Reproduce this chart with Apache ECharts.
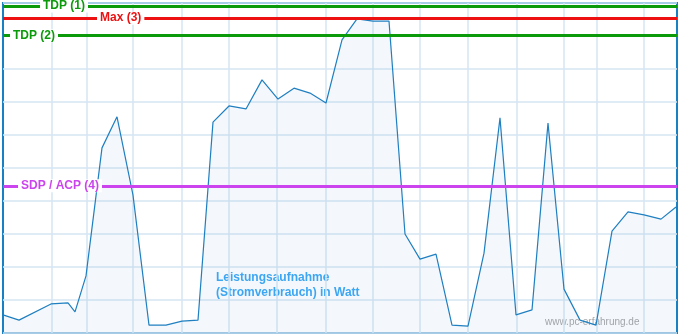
<!DOCTYPE html>
<html>
<head>
<meta charset="utf-8">
<script src="https://cdn.jsdelivr.net/npm/echarts@6/dist/echarts.min.js"></script>
<style>
html,body{margin:0;padding:0;background:#fff;}
#chart{width:681px;height:336px;}
</style>
</head>
<body>
<div id="chart"></div>
<script>
// Sample positions (time axis, arbitrary units) and power draw values (0..100 scale)
var xVals = [0,16,48,65,72,83,99,114,130,146,163,179,195,210,226,243,259,275,291,307,323,339,354,370,386,402,417,433,449,465,481,497,513,529,545,561,577,593,609,625,641,658,673];
var powerVals = [5.5,3.9,8.8,9.1,6.4,17.3,56.1,65.5,41.8,2.4,2.4,3.6,3.9,63.9,68.8,67.9,76.7,70.9,74.2,72.7,69.7,88.8,95.2,94.5,94.5,30.0,22.4,23.9,2.4,2.1,24.2,65.2,5.5,7.0,63.6,13.3,3.9,2.4,30.9,36.7,35.8,34.5,38.2];

// Vertical grid line positions (x-axis units)
var gridX = [49,84,130,179,226,274,323,370,417,465,514,561,594,641];

// Reference lines
var refNames = ['TDP (1)','Max (3)','TDP (2)','SDP / ACP (4)'];
var refValues = [99.1,95.4,90.1,44.6];
var refColors = ['#0a9a0a','#ee1111','#0a9a0a','#cc44ee'];
var refLabelOffsets = [37,94,7,15];

var seriesData = xVals.map(function(x,i){ return [x, powerVals[i]]; });

var chart = echarts.init(document.getElementById('chart'), null, {renderer:'canvas'});
var font = '"Liberation Sans", Arial, sans-serif';

chart.setOption({
  animation: false,
  backgroundColor: '#ffffff',
  grid: {left: 3, top: 3, right: 4, bottom: 3, show: true, borderColor: '#1a80c4', borderWidth: 2, backgroundColor: 'transparent'},
  xAxis: {
    type: 'value', min: 0, max: 674,
    axisLine: {show:false}, axisTick:{show:false}, axisLabel:{show:false}, splitLine:{show:false}
  },
  yAxis: {
    type: 'value', min: 0, max: 100, interval: 10,
    axisLine: {show:false}, axisTick:{show:false}, axisLabel:{show:false},
    splitLine: {show:true, lineStyle:{color:'#d6e6f2', width:1.5}}
  },
  series: [
    {
      type: 'line', data: [], silent: true,
      markLine: {
        z: 1, silent: true, symbol: 'none', animation: false,
        label: {show: false},
        lineStyle: {color: '#d6e6f2', width: 1.5, type: 'solid'},
        data: gridX.map(function(v){ return {xAxis: v}; })
      }
    },
    {
      type: 'line', data: seriesData, z: 2,
      showSymbol: false, symbol: 'none',
      lineStyle: {color: '#1f7fc0', width: 1.2},
      areaStyle: {color: 'rgba(30,120,190,0.07)', origin: 'start'},
      markLine: {
        z: 5, silent: true, symbol: 'none', animation: false,
        data: refValues.map(function(v,i){
          return {
            yAxis: v,
            lineStyle: {color: refColors[i], width: 3, type: 'solid'},
            label: {
              show: true, position: 'insideStart', formatter: refNames[i],
              color: refColors[i], fontWeight: 'bold', fontSize: 12, fontFamily: font,
              backgroundColor: '#ffffff', padding: [1,3,0,3], distance: [refLabelOffsets[i], 0]
            }
          };
        })
      }
    }
  ],
  graphic: [
    {
      type: 'text', left: 216, top: 270, silent: true,
      style: {
        text: 'Leistungsaufnahme\n(Stromverbrauch) in Watt',
        fill: '#3fa9f5', font: 'bold 12px "Liberation Sans", Arial, sans-serif', lineHeight: 15
      }
    },
    {
      type: 'text', left: 545, top: 317, silent: true,
      style: {
        text: 'www.pc-erfahrung.de',
        fill: '#a8a8a8', font: '10px "Liberation Sans", Arial, sans-serif'
      }
    }
  ]
});
</script>
</body>
</html>
